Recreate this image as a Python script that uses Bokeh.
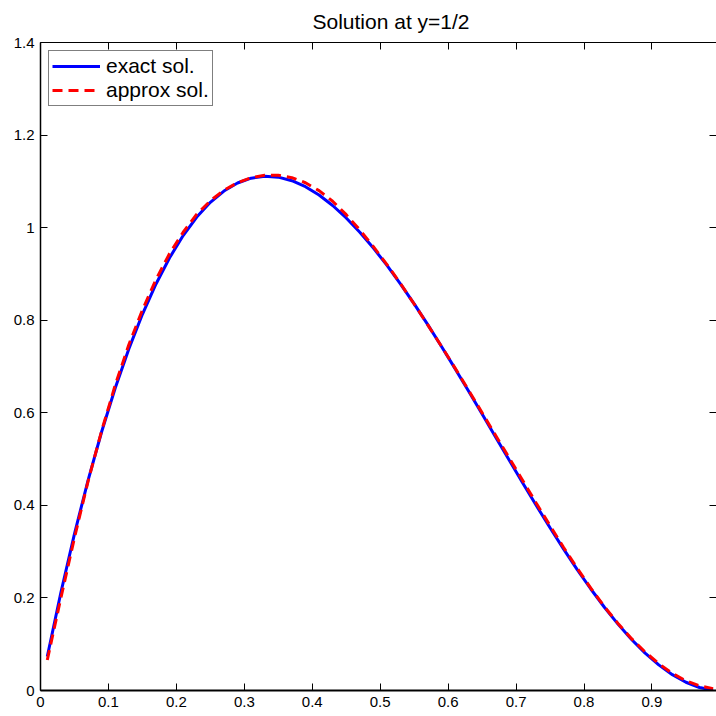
from bokeh.plotting import figure
from bokeh.models import Range1d, LinearAxis, FixedTicker, Legend, LegendItem
from bokeh.embed import file_html
from bokeh.resources import INLINE

# ---- data ----
x_vals = [0.01, 0.03, 0.05, 0.07, 0.09, 0.11, 0.13, 0.15, 0.17, 0.19,
          0.21, 0.23, 0.25, 0.27, 0.29, 0.31, 0.33, 0.35, 0.37, 0.39,
          0.41, 0.43, 0.45, 0.47, 0.49, 0.51, 0.53, 0.55, 0.57, 0.59,
          0.61, 0.63, 0.65, 0.67, 0.69, 0.71, 0.73, 0.75, 0.77, 0.79,
          0.81, 0.83, 0.85, 0.87, 0.89, 0.91, 0.93, 0.95, 0.97, 0.99]
exact_sol = [0.0735, 0.2117, 0.3384, 0.4541, 0.5590, 0.6535, 0.7380, 0.8128, 0.8783, 0.9349,
             0.9830, 1.0228, 1.0547, 1.0791, 1.0964, 1.1069, 1.1110, 1.1091, 1.1014, 1.0884,
             1.0704, 1.0478, 1.0209, 0.9902, 0.9559, 0.9184, 0.8781, 0.8353, 0.7904, 0.7438,
             0.6959, 0.6469, 0.5972, 0.5472, 0.4973, 0.4478, 0.3991, 0.3516, 0.3055, 0.2613,
             0.2193, 0.1799, 0.1434, 0.1103, 0.0808, 0.0553, 0.0342, 0.0178, 0.0065, 0.0007]
approx_sol = [0.066, 0.200, 0.330, 0.452, 0.561, 0.660, 0.747, 0.822, 0.888, 0.944,
              0.990, 1.029, 1.058, 1.081, 1.097, 1.108, 1.113, 1.113, 1.108, 1.097,
              1.080, 1.057, 1.028, 0.995, 0.959, 0.920, 0.879, 0.835, 0.790, 0.744,
              0.697, 0.649, 0.600, 0.551, 0.502, 0.453, 0.404, 0.356, 0.309, 0.264,
              0.221, 0.181, 0.145, 0.112, 0.083, 0.058, 0.037, 0.021, 0.010, 0.004]

x_ticks = [0, 0.1, 0.2, 0.3, 0.4, 0.5, 0.6, 0.7, 0.8, 0.9, 1.0]
x_tick_labels = ["0", "0.1", "0.2", "0.3", "0.4", "0.5", "0.6", "0.7", "0.8", "0.9", "1"]
y_ticks = [0, 0.2, 0.4, 0.6, 0.8, 1.0, 1.2, 1.4]
y_tick_labels = ["0", "0.2", "0.4", "0.6", "0.8", "1", "1.2", "1.4"]

title_text = "Solution at y=1/2"
series_names = ["exact sol.", "approx sol."]

FONT = "Liberation Sans"

p = figure(width=716, height=716, output_backend="svg", toolbar_location=None,
           x_range=Range1d(0, 0.995), y_range=Range1d(0, 1.4),
           min_border_left=40, min_border_right=0, min_border_bottom=26,
           min_border_top=42, x_axis_type=None, y_axis_type=None)
p.outline_line_color = None
p.background_fill_color = "white"
p.border_fill_color = "white"

def style_axis(ax, ticks, labels, show_labels=True, line=True):
    ax.ticker = FixedTicker(ticks=ticks)
    ax.major_tick_in = 7
    ax.major_tick_out = 0
    ax.minor_tick_in = 0
    ax.minor_tick_out = 0
    ax.major_tick_line_color = "black"
    ax.major_tick_line_width = 1
    ax.axis_line_color = "black" if line else None
    ax.axis_line_width = 1
    if show_labels:
        ax.major_label_overrides = {t: l for t, l in zip(ticks, labels)}
        ax.major_label_text_font = FONT
        ax.major_label_text_font_size = "15px"
        ax.major_label_text_color = "black"
        ax.major_label_standoff = 6
    else:
        ax.major_label_text_color = None
        ax.major_label_text_font_size = "0px"
        ax.major_label_standoff = 0

xb = LinearAxis()
style_axis(xb, x_ticks, x_tick_labels)
xb.axis_line_width = 2
p.add_layout(xb, "below")

yl = LinearAxis()
style_axis(yl, y_ticks, y_tick_labels)
yl.axis_line_width = 1.5
p.add_layout(yl, "left")

xt = LinearAxis()
style_axis(xt, x_ticks, x_tick_labels, show_labels=False)
p.add_layout(xt, "above")

yr = LinearAxis()
style_axis(yr, y_ticks, y_tick_labels, show_labels=False, line=False)
p.add_layout(yr, "right")

p.xgrid.visible = False
p.ygrid.visible = False

r1 = p.line(x_vals, exact_sol, line_color="#0000ff", line_width=3)
r2 = p.line(x_vals, approx_sol, line_color="#ff0000", line_width=3, line_dash="10 6")

legend = Legend(items=[LegendItem(label=series_names[0], renderers=[r1]),
                       LegendItem(label=series_names[1], renderers=[r2])],
                location="top_left")
legend.label_text_font = FONT
legend.label_text_font_size = "21px"
legend.label_text_color = "black"
legend.border_line_color = "black"
legend.border_line_width = 1
legend.background_fill_color = "white"
legend.background_fill_alpha = 1
legend.glyph_width = 48
legend.glyph_height = 22
legend.label_height = 22
legend.label_standoff = 6
legend.spacing = 0
legend.padding = 3
legend.margin = 8
p.add_layout(legend)

p.title.text = title_text
p.title.text_font = FONT
p.title.text_font_size = "21px"
p.title.text_font_style = "normal"
p.title.text_color = "black"
p.title.align = "left"
p.title.offset = 272
p.title.vertical_align = "top"
p.title.standoff = 16

open("out.html", "w").write(file_html(p, INLINE))
